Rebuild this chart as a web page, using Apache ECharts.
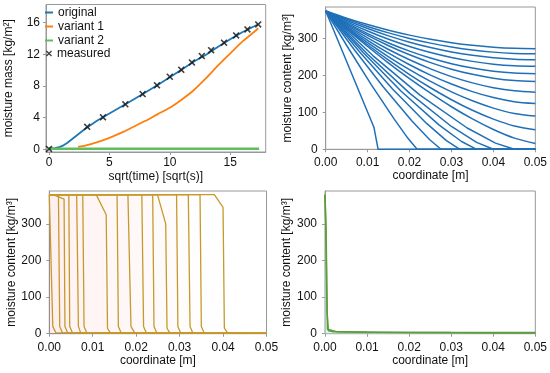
<!DOCTYPE html>
<html><head><meta charset="utf-8">
<script src="https://cdn.jsdelivr.net/npm/echarts@6/dist/echarts.min.js"></script>
<style>html,body{margin:0;padding:0;background:#fff}#c{width:550px;height:373px}</style>
</head><body><div id="c"></div>
<script>
// ---------- Panel 1: moisture mass vs sqrt(time) ----------
const originalX = [0,0.5,0.9,1.2,1.5,2,2.5,3,3.16,4,5,6,7,8,9,10,11,12,13,14,15,16,17,17.32];
const originalY = [0.1,0.15,0.3,0.5,0.8,1.4,2.0,2.6,2.8,3.65,4.53,5.4,6.3,7.2,8.13,9.1,10.1,11.1,11.95,12.95,13.9,14.8,15.55,15.8];
const variant1X = [2.4,3,4,5,6,7,8,9,10,11,12,13,14,15,16,17,17.32];
const variant1Y = [0.3,0.45,0.9,1.45,2.1,2.85,3.6,4.45,5.25,6.3,7.5,9.0,10.6,12.1,13.6,14.85,15.3];
const variant2X = [0,5,10,15,17.4];
const variant2Y = [0.08,0.08,0.08,0.08,0.08];
const measuredX = [0,3.16,4.47,6.32,7.75,8.94,10,10.95,11.83,12.65,13.42,14.49,15.49,16.43,17.32];
const measuredY = [0.05,2.85,4.04,5.68,6.98,8.08,9.17,10.05,10.98,11.78,12.53,13.47,14.39,15.15,15.78];
const massTicks = [0,4,8,12,16];
const sqrtTimeTicks = [0,5,10,15];

// ---------- Panel 2: original profiles ----------
const coordGrid = [0,0.005,0.01,0.015,0.02,0.025,0.03,0.035,0.04,0.045,0.05];
const profilesReachingEnd = [
  [375,355.6,338.3,323,309.7,298.5,289.3,282.2,277.1,274,273],
  [375,353,333.2,315.8,300.8,288,277.6,269.4,263.6,260.2,259],
  [375,349.9,327.5,307.7,290.5,276,264.1,254.9,248.3,244.3,243],
  [375,346.5,321,298.5,279,262.5,249,238.5,231,226.5,225],
  [375,342.7,313.8,288.3,266.2,247.5,232.2,220.3,211.8,206.7,205],
  [375,340.4,308.9,281,256.4,235.2,217.4,203.4,193,186.4,184],
  [375,337,302.2,270.7,242.8,218.1,197.2,180.2,167.1,158.5,155],
  [375,333.8,295.7,260.8,229.4,201.3,177,156.4,140.3,129,124],
  [375,330.8,289.5,251,216,184.1,155.8,131.6,111.7,97.1,90],
  [375,328,283.6,241.7,202.7,167,134.5,105.8,81.8,63.2,53],
  [375,325.8,278.8,233.9,191.6,152.1,115.4,82.4,53.7,30.3,16]
];
const profilesWithFront = [
  [[0,375],[0.0115,60],[0.0125,0],[0.05,0]],
  [[0,375],[0.00545,273.4],[0.0109,174.8],[0.01635,81.8],[0.01962,29.8],[0.0218,0],[0.05,0]],
  [[0,375],[0.006875,269.3],[0.01375,169.1],[0.020625,76.1],[0.02475,26.6],[0.0275,0],[0.05,0]],
  [[0,375],[0.008,265.5],[0.016,163.1],[0.024,70.9],[0.0288,23.7],[0.032,0],[0.05,0]],
  [[0,375],[0.009,261.8],[0.018,157.5],[0.027,66.4],[0.0324,21.1],[0.036,0],[0.05,0]],
  [[0,375],[0.01,258],[0.02,152.3],[0.03,61.9],[0.036,18.8],[0.04,0],[0.05,0]],
  [[0,375],[0.01125,254.3],[0.0225,147],[0.03375,57.8],[0.0405,16.8],[0.045,0],[0.05,0]]
];

// ---------- Panel 3: variant 1 profiles ----------
const variant1Profiles = [
  [[0,380],[0.0002,380],[0.0008,20],[0.0015,3],[0.05,2]],
  [[0,380],[0.0021,379],[0.0024,20],[0.003,3],[0.05,2]],
  [[0,380],[0.0009,380],[0.0034,368],[0.0036,20],[0.0042,3],[0.05,2]],
  [[0,380],[0.0045,380],[0.0047,20],[0.0053,3],[0.05,2]],
  [[0,380],[0.0063,380],[0.0067,20],[0.0072,3],[0.05,2]],
  [[0,380],[0.0077,380],[0.008,20],[0.0086,3],[0.05,2]],
  [[0,380],[0.0108,380],[0.0131,325],[0.0134,15],[0.014,3],[0.05,2]],
  [[0,380],[0.0156,380],[0.0159,20],[0.0165,3],[0.05,2]],
  [[0,380],[0.0181,380],[0.0188,20],[0.0196,3],[0.05,2]],
  [[0,380],[0.0213,380],[0.0217,20],[0.0223,3],[0.05,2]],
  [[0,380],[0.0238,380],[0.0241,20],[0.0247,3],[0.05,2]],
  [[0,380],[0.0249,380],[0.0268,300],[0.0271,15],[0.0277,3],[0.05,2]],
  [[0,380],[0.0293,380],[0.0296,20],[0.0302,3],[0.05,2]],
  [[0,380],[0.032,380],[0.0324,20],[0.033,3],[0.05,2]],
  [[0,380],[0.0347,380],[0.035,20],[0.0356,3],[0.05,2]],
  [[0,380],[0.038,380],[0.04,345],[0.0403,15],[0.041,3],[0.05,2]]
];

// ---------- Panel 4: variant 2 profiles ----------
const variant2Profiles = [
  [[0,380],[0.0002,300],[0.0004,120],[0.0006,12],[0.001,7],[0.003,5],[0.01,4],[0.03,3],[0.05,2.5]],
  [[0,380],[0.0003,250],[0.0005,60],[0.0008,8],[0.002,5],[0.02,3.5],[0.05,3]]
];
const contentTicks = [0,100,200,300];

const FONT = '"Liberation Sans", Arial, sans-serif';
const GRAY = '#999';
const zip = (xs, ys) => xs.map((x, i) => [x, ys[i]]);

function xAxis(gi, min, max, name, gap, ticks, fmt, margin) {
  return {
    type: 'value', gridIndex: gi, min: min, max: max,
    name: name, nameLocation: 'middle', nameGap: gap,
    nameTextStyle: {fontFamily: FONT, fontSize: 12, color: '#111'},
    axisLine: {show: true, onZero: false, lineStyle: {color: GRAY}},
    axisTick: {show: true, inside: false, length: 3, lineStyle: {color: GRAY}, customValues: ticks},
    axisLabel: {fontFamily: FONT, fontSize: 12, color: '#111', margin: margin, customValues: ticks, formatter: fmt},
    splitLine: {show: false}
  };
}
function yAxis(gi, min, max, name, gap, ticks, margin) {
  return {
    type: 'value', gridIndex: gi, min: min, max: max,
    name: name, nameLocation: 'middle', nameGap: gap,
    nameTextStyle: {fontFamily: FONT, fontSize: 12, color: '#111'},
    axisLine: {show: true, onZero: false, lineStyle: {color: GRAY}},
    axisTick: {show: true, inside: false, length: 3, lineStyle: {color: GRAY}, customValues: ticks},
    axisLabel: {fontFamily: FONT, fontSize: 12, color: '#111', margin: margin, customValues: ticks},
    splitLine: {show: false}
  };
}
const f2 = v => v.toFixed(2);
const f0 = v => String(v);
const coordTicks = [0,0.01,0.02,0.03,0.04,0.05];

const series = [];
series.push({name: 'original', type: 'line', xAxisIndex: 0, yAxisIndex: 0, data: zip(originalX, originalY),
  showSymbol: false, lineStyle: {color: '#1f77b4', width: 1.8}, itemStyle: {color: '#1f77b4'}, z: 3});
series.push({name: 'variant 1', type: 'line', xAxisIndex: 0, yAxisIndex: 0, data: zip(variant1X, variant1Y),
  showSymbol: false, smooth: 0.2, lineStyle: {color: '#ff7f0e', width: 1.8}, itemStyle: {color: '#ff7f0e'}, z: 3});
series.push({name: 'variant 2', type: 'line', xAxisIndex: 0, yAxisIndex: 0, data: zip(variant2X, variant2Y),
  showSymbol: false, lineStyle: {color: '#5cbf5c', width: 2.4}, itemStyle: {color: '#5cbf5c'}, z: 3});
const XPATH = 'path://M0,1.6 L1.6,0 L5,3.4 L8.4,0 L10,1.6 L6.6,5 L10,8.4 L8.4,10 L5,6.6 L1.6,10 L0,8.4 L3.4,5 Z';
series.push({name: 'measured', type: 'scatter', xAxisIndex: 0, yAxisIndex: 0, data: zip(measuredX, measuredY),
  symbol: XPATH, symbolSize: 7, itemStyle: {color: '#111'}, z: 5});

const BLUE = '#1f70b8';
profilesReachingEnd.forEach(vals => series.push({type: 'line', xAxisIndex: 1, yAxisIndex: 1,
  data: zip(coordGrid, vals), showSymbol: false, smooth: 0.3, lineStyle: {color: BLUE, width: 1.5}, silent: true}));
profilesWithFront.forEach(pts => series.push({type: 'line', xAxisIndex: 1, yAxisIndex: 1,
  data: pts, showSymbol: false, lineStyle: {color: BLUE, width: 1.5}, silent: true}));

const GOLD = '#c59a2c';
variant1Profiles.forEach(pts => series.push({type: 'line', xAxisIndex: 2, yAxisIndex: 2,
  data: pts, showSymbol: false, lineStyle: {color: GOLD, width: 1.3}, silent: true,
  areaStyle: {color: 'rgba(255,150,210,0.014)', origin: 'start'}}));

variant2Profiles.forEach(pts => series.push({type: 'line', xAxisIndex: 3, yAxisIndex: 3,
  data: pts, showSymbol: false, lineStyle: {color: '#5a9e34', width: 1.5}, silent: true,
  areaStyle: {color: 'rgba(190,238,238,0.45)', origin: 'start'}}));

const gridBase = {show: true, borderColor: GRAY, borderWidth: 1, backgroundColor: 'transparent', containLabel: false};
const option = {
  animation: false,
  backgroundColor: '#fff',
  grid: [
    Object.assign({left: 46, top: 4.5, width: 219.7, height: 147.5}, gridBase),
    Object.assign({left: 325.7, top: 7, width: 216.8, height: 142.3}, gridBase),
    Object.assign({left: 49.3, top: 191, width: 217.2, height: 142.7}, gridBase),
    Object.assign({left: 325, top: 191, width: 218, height: 142.7}, gridBase)
  ],
  xAxis: [
    xAxis(0, -0.25, 17.94, 'sqrt(time) [sqrt(s)]', 19, sqrtTimeTicks, f0, 5),
    xAxis(1, 0, 0.05, 'coordinate [m]', 20, coordTicks, f2, 7),
    xAxis(2, 0, 0.05, 'coordinate [m]', 21, coordTicks, f2, 8),
    xAxis(3, 0, 0.05, 'coordinate [m]', 21, coordTicks, f2, 8)
  ],
  yAxis: [
    yAxis(0, -0.34, 18.3, 'moisture mass [kg/m²]', 31, massTicks, 6),
    yAxis(1, 0, 386, 'moisture content [kg/m³]', 31, contentTicks, 8),
    yAxis(2, 0, 390, 'moisture content [kg/m³]', 32, contentTicks, 8),
    yAxis(3, 0, 390, 'moisture content [kg/m³]', 31, contentTicks, 8)
  ],
  legend: [
    {data: ['original', 'variant 1', 'variant 2'], orient: 'vertical', left: 45, top: 6,
     itemWidth: 8, itemHeight: 2, itemGap: 1, icon: 'rect', padding: 0,
     textStyle: {fontFamily: FONT, fontSize: 12, color: '#111', lineHeight: 13}},
    {data: ['measured'], orient: 'vertical', left: 46, top: 47, padding: 0,
     itemWidth: 6, itemHeight: 6, icon: XPATH,
     textStyle: {fontFamily: FONT, fontSize: 12, color: '#111', lineHeight: 13}}
  ],
  series: series
};
const chart = echarts.init(document.getElementById('c'), null, {renderer: 'canvas'});
chart.setOption(option);
</script></body></html>
